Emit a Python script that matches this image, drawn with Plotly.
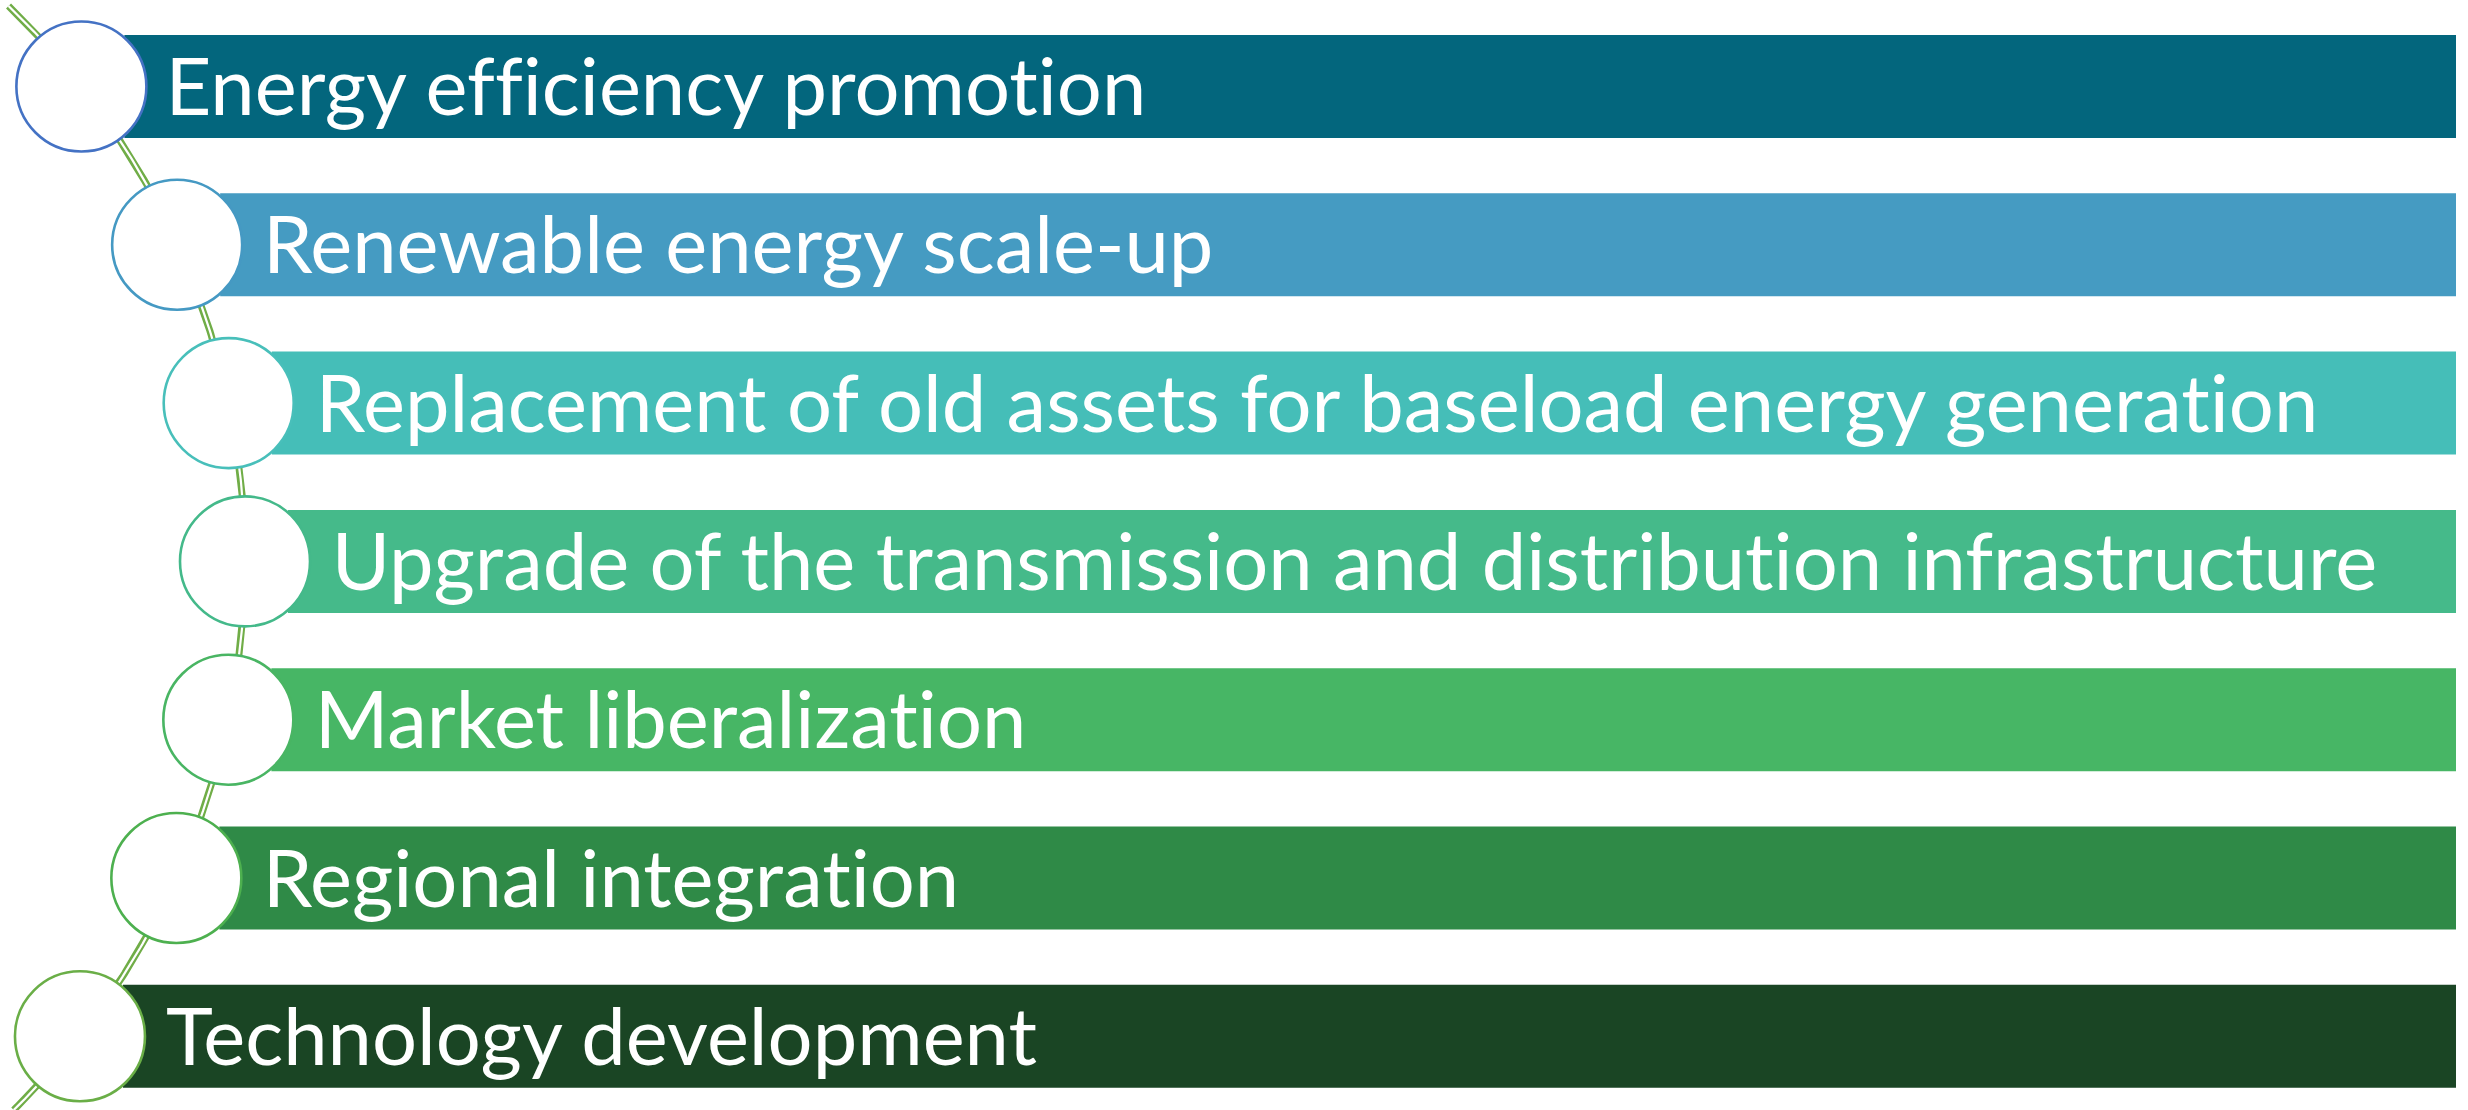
import numpy as np
import plotly.graph_objects as go

# ---- data ----
labels = [
    "Energy efficiency promotion",
    "Renewable energy scale-up",
    "Replacement of old assets for baseload energy generation",
    "Upgrade of the transmission and distribution infrastructure",
    "Market liberalization",
    "Regional integration",
    "Technology development",
]
bar_colors = ["#03667D", "#459BC2", "#45BEB8", "#45BA8A", "#47B665", "#2F8A47", "#1A4524"]
ring_colors = ["#4472C4", "#4599C3", "#48BFBA", "#44B98A", "#49B563", "#4DB04F", "#6AAE47"]

# ---- layout geometry (pixel space) ----
W, H = 2468, 1110
y0, pitch = 86.5, 158.3
bar_h = 103
right_edge = 2456
arc_cx, arc_cy, arc_r = -523.4, 560.5, 768.4

def arc_x(y):
    return arc_cx + np.sqrt(arc_r**2 - (np.asarray(y) - arc_cy) ** 2)

n = len(labels)
cy = np.array([y0 + pitch * i for i in range(n)])
cx = arc_x(cy)
bar_start = cx + 43
bar_len = right_edge - bar_start

fig = go.Figure()

# connector arc (double line)
ya = np.linspace(6, 1110, 300)
xa = arc_x(ya)
fig.add_trace(go.Scatter(x=xa, y=ya, mode="lines", line=dict(color="#70AD47", width=7),
                         hoverinfo="skip", showlegend=False))
fig.add_trace(go.Scatter(x=xa, y=ya, mode="lines", line=dict(color="white", width=2.2),
                         hoverinfo="skip", showlegend=False))

# bars
fig.add_trace(go.Bar(orientation="h", y=cy, x=bar_len, base=bar_start, width=bar_h,
                     marker=dict(color=bar_colors, line=dict(width=0)),
                     hoverinfo="skip", showlegend=False))

# circles
fig.add_trace(go.Scatter(x=cx, y=cy, mode="markers",
                         marker=dict(size=130, color="white", line=dict(color=ring_colors, width=2.6)),
                         hoverinfo="skip", showlegend=False))

for i in range(n):
    fig.add_annotation(x=cx[i] + 84, y=cy[i] - 2, text=labels[i], showarrow=False,
                       xanchor="left", yanchor="middle", xref="x", yref="y",
                       font=dict(family="Lato", size=79.5, color="white"))

fig.update_layout(
    width=W, height=H, margin=dict(l=0, r=0, t=0, b=0),
    paper_bgcolor="white", plot_bgcolor="white", barmode="overlay",
    xaxis=dict(range=[0, W], visible=False, fixedrange=True),
    yaxis=dict(range=[H, 0], visible=False, fixedrange=True),
)

post = """
document.body.style.margin = '0';
document.body.style.overflow = 'hidden';
var st = document.createElement('style');
st.textContent = 'text { font-variant-ligatures: none; font-feature-settings: "liga" 0, "clig" 0; }';
document.head.appendChild(st);
"""
fig.write_html("out.html", post_script=post, config={"displayModeBar": False, "staticPlot": True})
